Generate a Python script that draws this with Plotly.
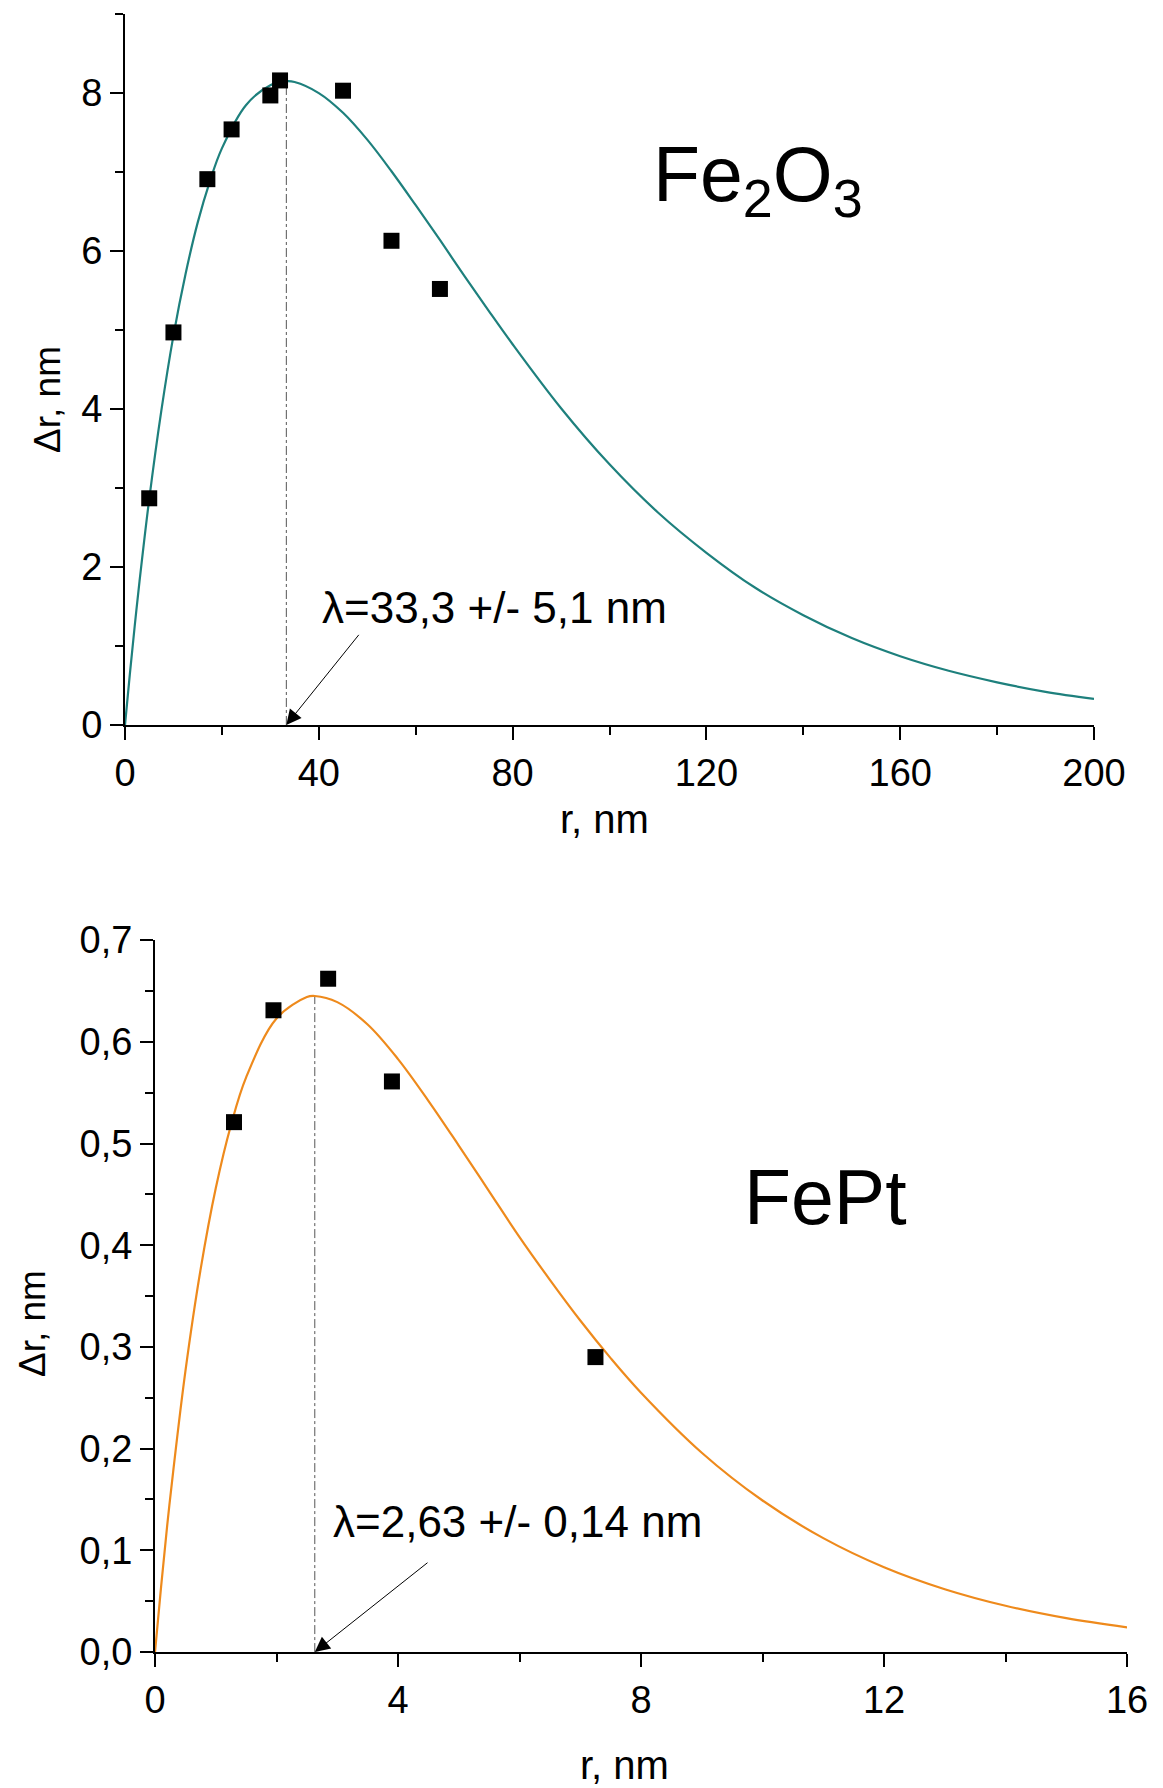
import plotly.graph_objects as go

# ---------------- data ----------------
# Fe2O3 panel
fe_r_pts = [5, 10, 17, 22, 30, 32, 45, 55, 65]
fe_dr_pts = [2.87, 4.97, 6.91, 7.54, 7.97, 8.16, 8.03, 6.13, 5.52]
fe_r_fit = [0, 1, 2, 3, 5, 7.5, 10, 12.5, 15, 17.5, 20, 25, 30, 33.3, 35, 40, 45, 50, 55,
            60, 65, 70, 75, 80, 90, 100, 110, 120, 130, 140, 150, 160, 170, 180, 190, 200]
fe_dr_fit = [0, 0.645, 1.25, 1.82, 2.86, 3.98, 4.93, 5.71, 6.36, 6.88, 7.30, 7.85, 8.10, 8.15, 8.14,
             8.00, 7.75, 7.41, 7.01, 6.58, 6.14, 5.69, 5.25, 4.82, 4.01, 3.30, 2.69, 2.18, 1.74,
             1.39, 1.10, 0.87, 0.686, 0.54, 0.42, 0.33]
fe_lambda = 33.3
fe_peak = 8.15
fe_xticks = [0, 40, 80, 120, 160, 200]
fe_xticktext = ["0", "40", "80", "120", "160", "200"]
fe_yticks = [0, 2, 4, 6, 8]
fe_yticktext = ["0", "2", "4", "6", "8"]

# FePt panel
pt_r_pts = [1.3, 1.95, 2.85, 3.9, 7.25]
pt_dr_pts = [0.521, 0.631, 0.662, 0.561, 0.290]
pt_r_fit = [0, 0.1, 0.2, 0.3, 0.5, 0.75, 1, 1.25, 1.5, 2, 2.5, 2.63, 3, 3.5, 4, 4.5, 5, 5.5,
            6, 6.5, 7, 7.5, 8, 9, 10, 11, 12, 13, 14, 15, 16]
pt_dr_fit = [0, 0.064, 0.124, 0.178, 0.276, 0.376, 0.456, 0.518, 0.565, 0.623, 0.644, 0.645,
             0.639, 0.617, 0.583, 0.542, 0.498, 0.453, 0.408, 0.366, 0.326, 0.289, 0.255,
             0.196, 0.149, 0.112, 0.0834, 0.0618, 0.0455, 0.0333, 0.0243]
pt_lambda = 2.63
pt_peak = 0.645
pt_xticks = [0, 4, 8, 12, 16]
pt_xticktext = ["0", "4", "8", "12", "16"]
pt_yticks = [0, 0.1, 0.2, 0.3, 0.4, 0.5, 0.6, 0.7]
pt_yticktext = ["0,0", "0,1", "0,2", "0,3", "0,4", "0,5", "0,6", "0,7"]

FONT = "Liberation Sans, Arial, sans-serif"
TEAL = "#1E807D"
ORANGE = "#EE8A1C"
TICKFONT = 38

fig = go.Figure()

# Fe2O3 traces
fig.add_trace(go.Scatter(x=[fe_lambda, fe_lambda], y=[0, fe_peak], mode="lines",
                         line=dict(color="#555555", width=1, dash="dashdot"),
                         xaxis="x", yaxis="y", showlegend=False))
fig.add_trace(go.Scatter(x=fe_r_fit, y=fe_dr_fit, mode="lines", line_shape="spline",
                         line=dict(color=TEAL, width=2.2), xaxis="x", yaxis="y", showlegend=False))
fig.add_trace(go.Scatter(x=fe_r_pts, y=fe_dr_pts, mode="markers",
                         marker=dict(symbol="square", size=16, color="black"),
                         xaxis="x", yaxis="y", showlegend=False, cliponaxis=False))

# FePt traces
fig.add_trace(go.Scatter(x=[pt_lambda, pt_lambda], y=[0, pt_peak], mode="lines",
                         line=dict(color="#555555", width=1, dash="dashdot"),
                         xaxis="x2", yaxis="y2", showlegend=False))
fig.add_trace(go.Scatter(x=pt_r_fit, y=pt_dr_fit, mode="lines", line_shape="spline",
                         line=dict(color=ORANGE, width=2.2), xaxis="x2", yaxis="y2", showlegend=False))
fig.add_trace(go.Scatter(x=pt_r_pts, y=pt_dr_pts, mode="markers",
                         marker=dict(symbol="square", size=16, color="black"),
                         xaxis="x2", yaxis="y2", showlegend=False, cliponaxis=False))

axis_common = dict(showline=True, linecolor="black", linewidth=2, ticks="outside",
                   ticklen=13, tickwidth=2, tickcolor="black", showgrid=False, zeroline=False,
                   automargin=False,
                   tickfont=dict(family=FONT, size=TICKFONT, color="black"), mirror=False)
minor_common = dict(ticklen=8, tickwidth=2, ticks="outside", tickcolor="black", showgrid=False)

fig.update_layout(
    template="none",
    width=1163, height=1788,
    margin=dict(l=0, r=0, t=0, b=0, autoexpand=False),
    paper_bgcolor="white", plot_bgcolor="white",
    font=dict(family=FONT, color="black"),
    showlegend=False,
    xaxis=dict(domain=[0.1006, 0.9338], range=[0, 200], anchor="y",
               tickmode="array", tickvals=fe_xticks, ticktext=fe_xticktext,
               minor=dict(dtick=20, tick0=0, **minor_common), **axis_common),
    yaxis=dict(domain=[0.5990, 0.9966], range=[0, 9], anchor="x",
               tickmode="array", tickvals=fe_yticks, ticktext=fe_yticktext,
               minor=dict(dtick=1, tick0=0, **minor_common), **axis_common),
    xaxis2=dict(domain=[0.1264, 0.9622], range=[0, 16], anchor="y2",
                tickmode="array", tickvals=pt_xticks, ticktext=pt_xticktext,
                minor=dict(dtick=2, tick0=0, **minor_common), **axis_common),
    yaxis2=dict(domain=[0.0805, 0.4787], range=[0, 0.7], anchor="x2",
                tickmode="array", tickvals=pt_yticks, ticktext=pt_yticktext,
                minor=dict(dtick=0.05, tick0=0, **minor_common), **axis_common),
)

ann = []
# axis titles
ann.append(dict(text="r, nm", x=0.5125, y=0.5464, xref="paper", yref="paper", showarrow=False,
                font=dict(family=FONT, size=40), xanchor="center", yanchor="middle"))
ann.append(dict(text="Δr, nm", x=0.0344, y=0.7808, xref="paper", yref="paper", showarrow=False,
                textangle=-90, font=dict(family=FONT, size=37), xanchor="center", yanchor="middle"))
ann.append(dict(text="r, nm", x=0.5297, y=0.0173, xref="paper", yref="paper", showarrow=False,
                font=dict(family=FONT, size=40), xanchor="center", yanchor="middle"))
ann.append(dict(text="Δr, nm", x=0.0206, y=0.2645, xref="paper", yref="paper", showarrow=False,
                textangle=-90, font=dict(family=FONT, size=37), xanchor="center", yanchor="middle"))
# sample labels
ann.append(dict(text="Fe<sub>2</sub>O<sub>3</sub>", x=130.6, y=6.9, xref="x", yref="y", showarrow=False,
                font=dict(family=FONT, size=77), xanchor="center", yanchor="middle"))
ann.append(dict(text="FePt", x=11.03, y=0.447, xref="x2", yref="y2", showarrow=False,
                font=dict(family=FONT, size=77), xanchor="center", yanchor="middle"))
# lambda texts
ann.append(dict(text="λ=33,3 +/- 5,1 nm", x=40.2, y=1.49, xref="x", yref="y", showarrow=False,
                font=dict(family=FONT, size=44), xanchor="left", yanchor="middle"))
ann.append(dict(text="λ=2,63 +/- 0,14 nm", x=2.90, y=0.128, xref="x2", yref="y2", showarrow=False,
                font=dict(family=FONT, size=44), xanchor="left", yanchor="middle"))
# arrows
ann.append(dict(text="", x=fe_lambda, y=0, ax=48.5, ay=1.16, xref="x", yref="y", axref="x", ayref="y",
                showarrow=True, arrowhead=2, arrowsize=3, arrowwidth=1, arrowcolor="black"))
ann.append(dict(text="", x=pt_lambda, y=0, ax=4.51, ay=0.089, xref="x2", yref="y2", axref="x2", ayref="y2",
                showarrow=True, arrowhead=2, arrowsize=3, arrowwidth=1, arrowcolor="black"))
fig.update_layout(annotations=ann)

fig.write_html("out.html")
